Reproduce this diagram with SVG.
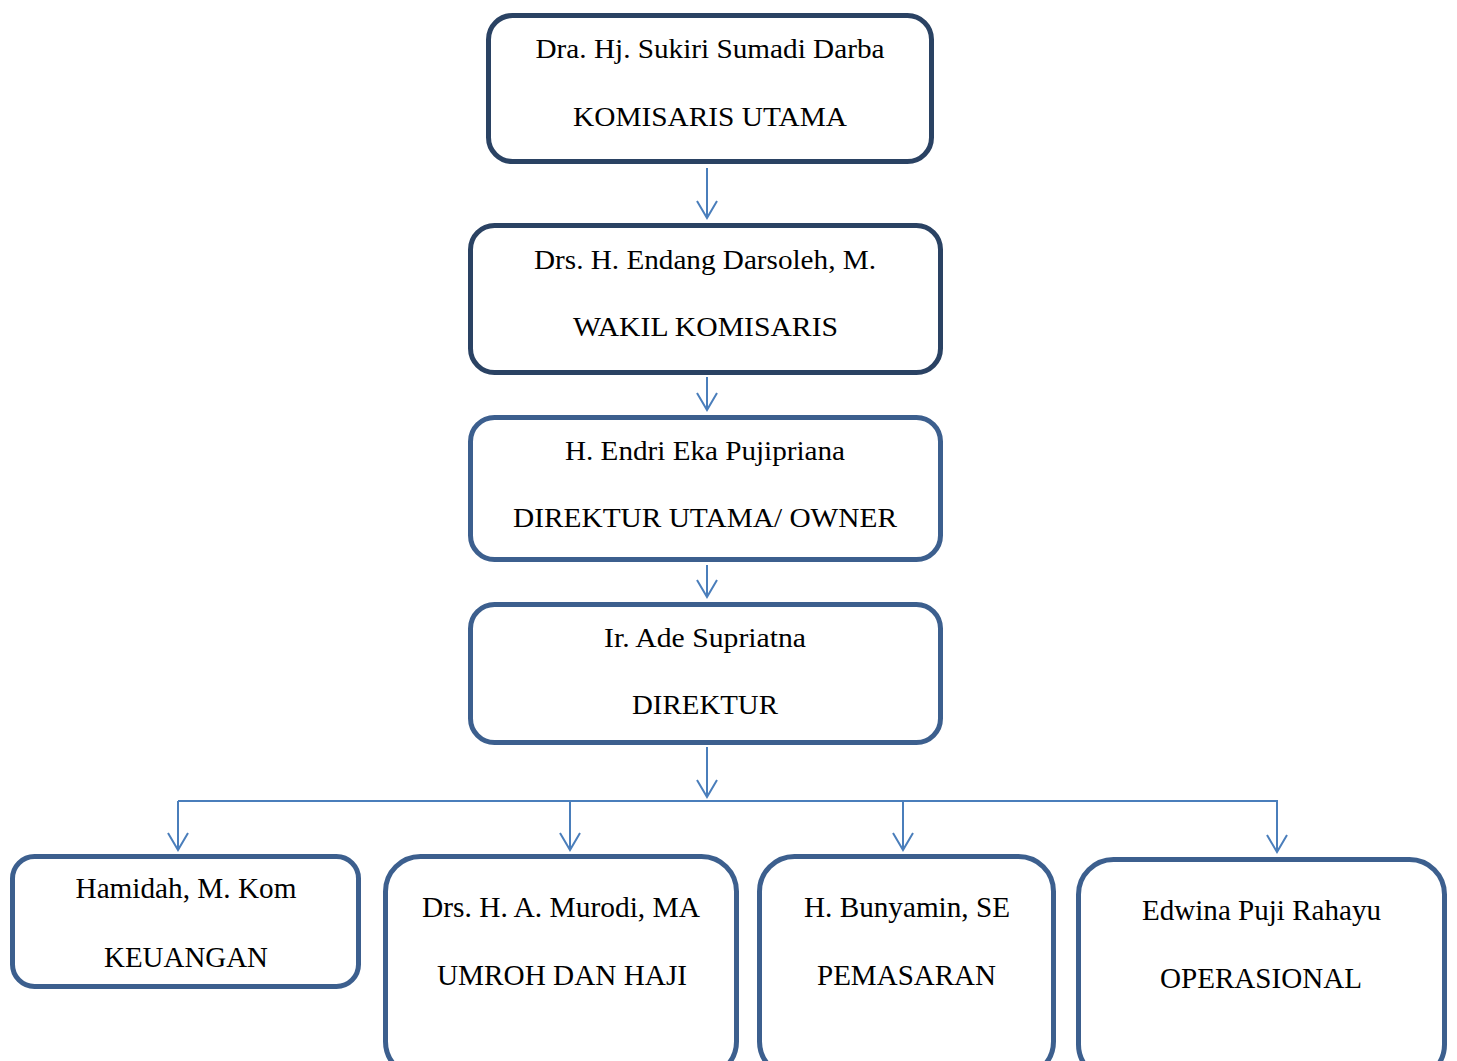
<svg xmlns="http://www.w3.org/2000/svg" width="1457" height="1061" viewBox="0 0 1457 1061">
<style>
.box{fill:#fff;stroke-width:5}
.dark{stroke:#2a4263}
.mid{stroke:#3c5f8e}
.t{font-family:"Liberation Serif","Times New Roman",serif;font-size:27px;fill:#000;text-anchor:middle}
.b{font-size:29px}
.c{fill:none;stroke:#4a7ebb;stroke-width:2}
</style>
<rect width="1457" height="1061" fill="#fff"/>
<g id="connectors">
<path class="c" d="M707,168V218M697,201L707,218L717,201"/>
<path class="c" d="M707,377V410M697,393L707,410L717,393"/>
<path class="c" d="M707,565V597M697,580L707,597L717,580"/>
<path class="c" d="M707,747V797M697,780L707,797L717,780"/>
<path class="c" d="M178,801H1278"/>
<path class="c" d="M178,801V850M168,833L178,850L188,833"/>
<path class="c" d="M570,801V850M560,833L570,850L580,833"/>
<path class="c" d="M903,801V850M893,833L903,850L913,833"/>
<path class="c" d="M1277,801V852M1267,835L1277,852L1287,835"/>
</g>
<g id="n1">
<rect class="box dark" x="488.5" y="15.5" width="443" height="146" rx="24"/>
<text class="t" x="710" y="58" textLength="349" lengthAdjust="spacingAndGlyphs">Dra. Hj. Sukiri Sumadi Darba</text>
<text class="t" x="710" y="126" textLength="274" lengthAdjust="spacingAndGlyphs">KOMISARIS UTAMA</text>
</g>
<g id="n2">
<rect class="box dark" x="470.5" y="225.5" width="470" height="147" rx="24"/>
<text class="t" x="705" y="269" textLength="342" lengthAdjust="spacingAndGlyphs">Drs. H. Endang Darsoleh, M.</text>
<text class="t" x="705.5" y="336" textLength="265" lengthAdjust="spacingAndGlyphs">WAKIL KOMISARIS</text>
</g>
<g id="n3">
<rect class="box mid" x="470.5" y="417.5" width="470" height="142" rx="24"/>
<text class="t" x="705" y="460" textLength="280" lengthAdjust="spacingAndGlyphs">H. Endri Eka Pujipriana</text>
<text class="t" x="705" y="527" textLength="384" lengthAdjust="spacingAndGlyphs">DIREKTUR UTAMA/ OWNER</text>
</g>
<g id="n4">
<rect class="box mid" x="470.5" y="604.5" width="470" height="138" rx="24"/>
<text class="t" x="705" y="647" textLength="202" lengthAdjust="spacingAndGlyphs">Ir. Ade Supriatna</text>
<text class="t" x="705" y="714" textLength="146" lengthAdjust="spacingAndGlyphs">DIREKTUR</text>
</g>
<g id="n5">
<rect class="box mid" x="12.5" y="856.5" width="346" height="130" rx="22"/>
<text class="t b" x="186" y="898" textLength="221" lengthAdjust="spacingAndGlyphs">Hamidah, M. Kom</text>
<text class="t b" x="186" y="967" textLength="164" lengthAdjust="spacingAndGlyphs">KEUANGAN</text>
</g>
<g id="n6">
<rect class="box mid" x="385.5" y="856.5" width="351" height="220" rx="35"/>
<text class="t b" x="561" y="917" textLength="278" lengthAdjust="spacingAndGlyphs">Drs. H. A. Murodi, MA</text>
<text class="t b" x="562" y="985" textLength="250" lengthAdjust="spacingAndGlyphs">UMROH DAN HAJI</text>
</g>
<g id="n7">
<rect class="box mid" x="759.5" y="856.5" width="294" height="220" rx="35"/>
<text class="t b" x="907" y="917" textLength="206" lengthAdjust="spacingAndGlyphs">H. Bunyamin, SE</text>
<text class="t b" x="906.5" y="985" textLength="179" lengthAdjust="spacingAndGlyphs">PEMASARAN</text>
</g>
<g id="n8">
<rect class="box mid" x="1078.5" y="859.5" width="366" height="220" rx="35"/>
<text class="t b" x="1261.5" y="920" textLength="239" lengthAdjust="spacingAndGlyphs">Edwina Puji Rahayu</text>
<text class="t b" x="1261" y="988" textLength="202" lengthAdjust="spacingAndGlyphs">OPERASIONAL</text>
</g>
</svg>
